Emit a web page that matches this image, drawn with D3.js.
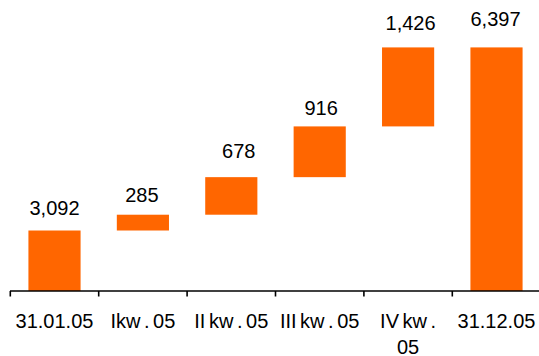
<!DOCTYPE html>
<html>
<head>
<meta charset="utf-8">
<script src="https://cdn.jsdelivr.net/npm/d3@7/dist/d3.min.js"></script>
<style>
  html, body { margin: 0; padding: 0; background: #fff; }
  svg { display: block; }
  text { font-family: "Liberation Sans", Arial, sans-serif; fill: #000; }
</style>
</head>
<body>
<svg id="chart" width="539" height="356"></svg>
<script>
// Waterfall: opening balance, quarterly increments, closing balance
const categories = ["31.01.05", "Ikw . 05", "II kw . 05", "III kw . 05", "IV kw . 05", "31.12.05"];
const values = [3092, 285, 678, 916, 1426, 6397];
const isTotal = [true, false, false, false, false, true];
const valueLabels = ["3,092", "285", "678", "916", "1,426", "6,397"];
// Category labels split into lines where they wrap
const categoryLines = [["31.01.05"], ["Ikw . 05"], ["II kw . 05"], ["III kw . 05"], ["IV kw .", "05"], ["31.12.05"]];

// Hand-placed label nudges (dx, extra gap above the bar top)
const labelDx = [0, -1, 7.5, 1.5, 2.5, -1];
const labelGap = [16, 12.5, 19, 11, 17, 21.5];

const svg = d3.select("#chart");
const axisY = 291;

const x = d3.scaleBand()
  .domain(categories)
  .range([10.3, 540.7])
  .paddingInner(0.41)
  .paddingOuter(0.205);

const y = d3.scaleLinear()
  .domain([2000, 7000])
  .range([axisY, 14]);

// Running totals for the floating bars
let running = 0;
const bars = categories.map((c, i) => {
  let lo, hi;
  if (isTotal[i]) {
    lo = y.domain()[0];
    hi = values[i];
    running = values[i];
  } else {
    lo = running;
    hi = running + values[i];
    running = hi;
  }
  return { c, i, lo, hi };
});

svg.append("g")
  .selectAll("rect")
  .data(bars)
  .join("rect")
  .attr("x", d => x(d.c))
  .attr("width", x.bandwidth())
  .attr("y", d => y(d.hi))
  .attr("height", d => y(d.lo) - y(d.hi))
  .attr("fill", "#FF6600");

// Value labels above bars
svg.append("g")
  .selectAll("text")
  .data(bars)
  .join("text")
  .attr("x", d => x(d.c) + x.bandwidth() / 2 + labelDx[d.i])
  .attr("y", d => y(d.hi) - labelGap[d.i])
  .attr("text-anchor", "middle")
  .attr("font-size", 20)
  .text(d => valueLabels[d.i]);

// Category axis: baseline with ticks at category boundaries
const axis = svg.append("g");
axis.append("line")
  .attr("x1", 10).attr("x2", 539)
  .attr("y1", axisY).attr("y2", axisY)
  .attr("stroke", "#000").attr("stroke-width", 1.6);

const boundaries = d3.range(categories.length + 1)
  .map(k => x.range()[0] + k * x.step());
axis.selectAll("line.tick")
  .data(boundaries)
  .join("line")
  .attr("class", "tick")
  .attr("x1", d => d).attr("x2", d => d)
  .attr("y1", axisY).attr("y2", axisY + 5.5)
  .attr("stroke", "#000").attr("stroke-width", 1.6);

const labels = axis.selectAll("text")
  .data(categories)
  .join("text")
  .attr("text-anchor", "middle")
  .attr("font-size", 20)
  .attr("word-spacing", "-2px")
  .attr("y", 328);

labels.each(function (c, i) {
  const t = d3.select(this);
  const cx = x(c) + x.bandwidth() / 2;
  categoryLines[i].forEach((line, j) => {
    t.append("tspan")
      .attr("x", cx)
      .attr("dy", j === 0 ? 0 : 25.5)
      .text(line);
  });
});
</script>
</body>
</html>
